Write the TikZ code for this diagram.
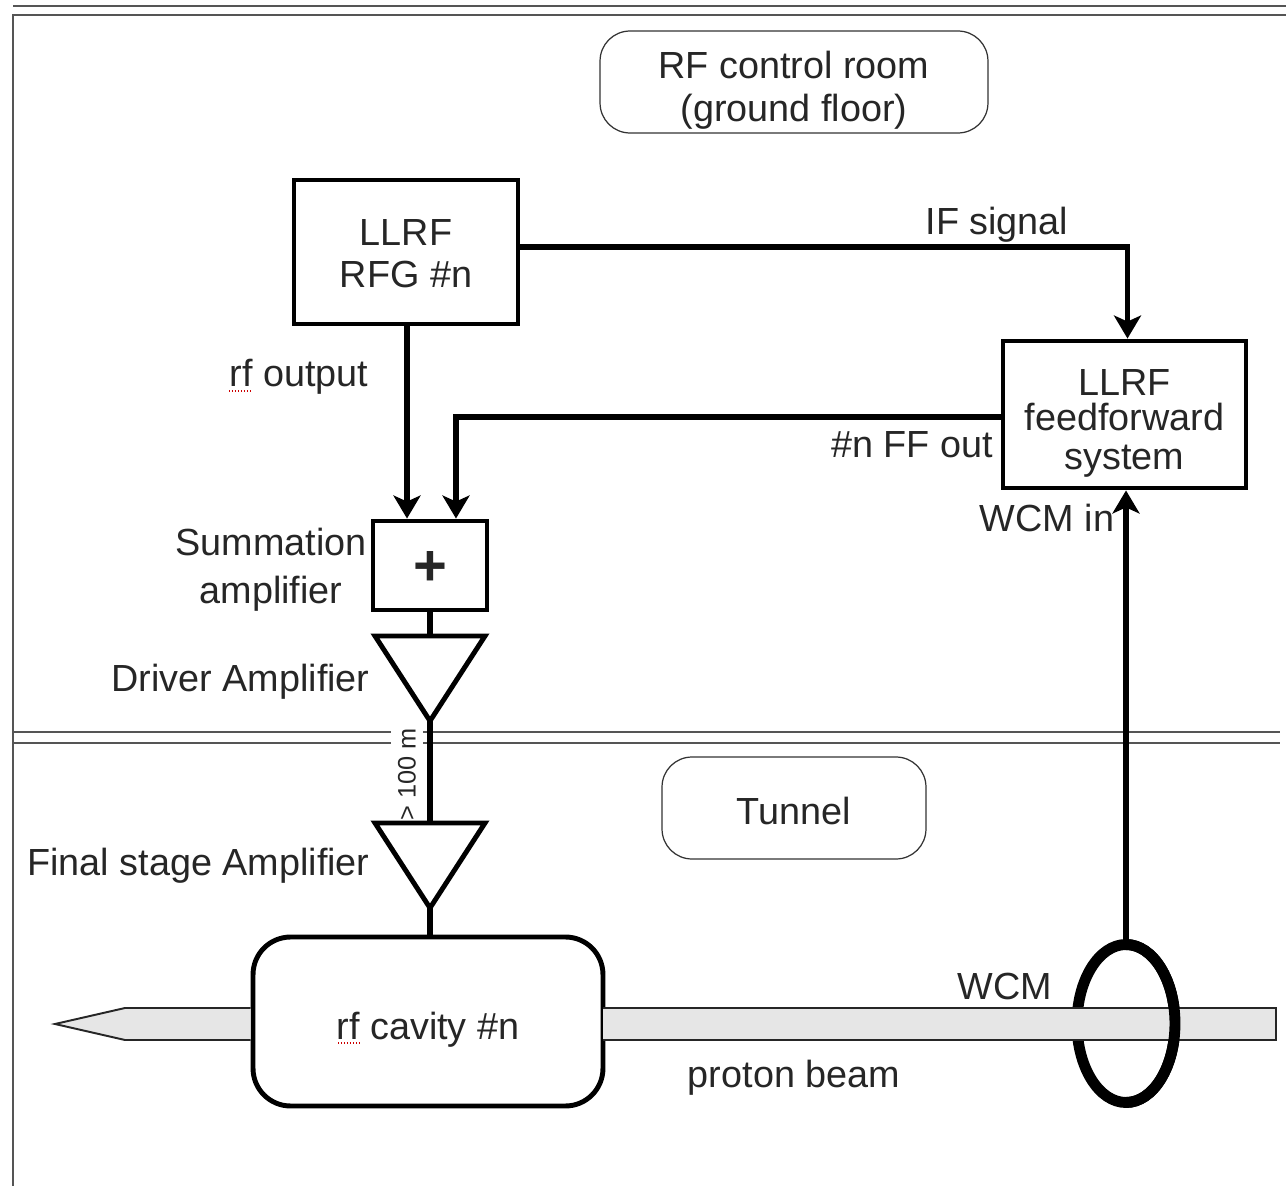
\documentclass[tikz,border=0pt]{standalone}
\usepackage{fontspec}
\setmainfont{Liberation Sans}
\usepackage{xcolor}
\usetikzlibrary{positioning,shapes.geometric,arrows.meta}
\definecolor{inkgray}{HTML}{262626}
\definecolor{beamgray}{HTML}{E6E6E6}
\definecolor{rulegray}{HTML}{555555}

\begin{document}
\begin{tikzpicture}[
    x=0.02cm, y=-0.02cm,
    block/.style={rectangle, draw=black, fill=white, line width=2.8pt, align=center, text=inkgray},
    room/.style={rectangle, draw=black!80, fill=white, line width=0.7pt, rounded corners=0.6cm, align=center, text=inkgray, inner sep=0pt},
    amp/.style={isosceles triangle, shape border rotate=-90, isosceles triangle stretches, anchor=lower side, draw=black, line width=2.8pt, minimum width=2.2cm, minimum height=1.7cm, inner sep=0pt, outer sep=0pt},
    ring/.style={ellipse, draw=black, line width=6.2pt, minimum width=1.96cm, minimum height=3.16cm, inner sep=0pt, outer sep=0pt},
    arrow/.style={-{Stealth[length=0.46cm,width=0.54cm,inset=0.12cm]}, line width=3pt},
    wire/.style={line width=3pt},
    wall/.style={draw=rulegray, line width=1.1pt},
    beam/.style={draw=inkgray, fill=beamgray, line width=1.1pt},
    note/.style={text=inkgray, align=center, inner sep=0pt},
    squiggle/.style={red!80!black, densely dotted, line width=0.7pt},
    font=\fontsize{21.5}{24}\selectfont
]
\useasboundingbox (0,0) rectangle (1286,1186);

% Walls
\draw[wall] (13,6) -- (1286,6);
\draw[wall] (1286,15) -- (13,15) -- (13,1186);
\draw[wall] (13,732) -- (1280,732);
\draw[wall] (13,743) -- (1280,743);

% Rooms
\node[room, minimum width=7.76cm, minimum height=2.04cm] (control) at (794,82) {\rule{0pt}{25pt}RF control room\\(ground floor)};
\node[room, minimum width=5.28cm, minimum height=2.04cm] (tunnel) at (794,808) {\rule{0pt}{19pt}Tunnel};

% Nodes
\node[block, minimum width=4.48cm, minimum height=2.88cm] (rfg) at (406,252) {\rule{0pt}{16.5pt}LLRF\\RFG \#n};
\node[block, minimum width=4.86cm, minimum height=2.94cm] (ff) at (1124.5,414.5) {\rule{0pt}{25pt}LLRF\\[-0.14cm]feedforward\\[-0.05cm]system};
\node[block, minimum width=2.28cm, minimum height=1.78cm, font=\fontsize{33}{33}\selectfont\bfseries] (sum) at (430,565.5) {\rule{0pt}{23pt}+};
\node[block, minimum width=7cm, minimum height=3.38cm, rounded corners=0.75cm] (cavity) at (428,1021.5) {\rule{0pt}{24.5pt}rf cavity \#n};

% Cable length, behind the amplifiers
\node[note, rotate=90, fill=white, inner sep=4pt, font=\fontsize{14.4}{14}\selectfont] (dist) at (407,774) {> 100 m};
\node[amp] (driver) at (430,636) {};
\node[amp] (final) at (430,823) {};

% Pick-up ring and beam
\node[ring] (wcm) at (1126,1023.5) {};
\draw[beam] (603,1008) -- (1276,1008) -- (1276,1040) -- (603,1040);
\draw[beam] (cavity.west |- 0,1008) -- (125,1008) -- (55,1024) -- (125,1040) -- (cavity.west |- 0,1040);
\draw[line width=6.2pt] (wcm.south) arc[start angle=-90, end angle=90, x radius=0.98cm, y radius=1.58cm];

% Arrows
\draw[arrow] ([yshift=0.1cm]rfg.east) -| ([xshift=0.06cm]ff.north);
\draw[arrow] ([xshift=0.02cm]rfg.south) -- ([xshift=0.02cm]rfg.south |- sum.north);
\draw[arrow] ([yshift=-0.05cm]ff.west) -| ([xshift=0.52cm]sum.north);
\draw[arrow] (wcm.north) -- (wcm.north |- ff.south);
\draw[wire] (sum.south) -- (driver.lower side);
\draw[wire] (driver.apex) -- (final.lower side);
\draw[wire] (final.apex) -- (final.apex |- cavity.north);

% Labels
\node[note] (ifsig) at (997,225) {IF signal};
\node[note] (rfout) at (299,377) {rf output};
\node[note] (ffout) at (912,445) {\#n FF out};
\node[note] (wcmin) at (1047,518) {WCM in};
\node[note] (sumlab) at (271,570) {Summation\\[0.12cm]amplifier};
\node[note, anchor=east] (drvlab) at (370,682) {Driver Amplifier};
\node[note, anchor=east] (finlab) at (370,866) {Final stage Amplifier};
\node[note] (wcmlab) at (1005,986) {WCM};
\node[note] (beamlab) at (794,1078) {proton beam};

% Spell-check marks
\draw[squiggle] (229,391) -- (252,391);
\draw[squiggle] (338,1043) -- (360,1043);

\end{tikzpicture}
\end{document}
